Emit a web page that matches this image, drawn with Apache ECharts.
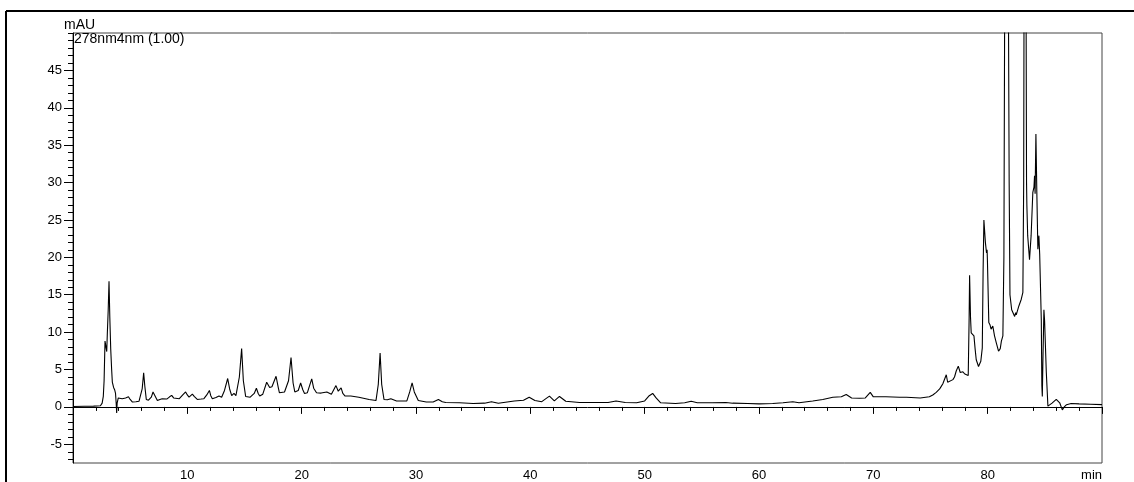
<!DOCTYPE html>
<html><head><meta charset="utf-8">
<script src="https://cdn.jsdelivr.net/npm/echarts@6/dist/echarts.min.js"></script>
<style>html,body{margin:0;padding:0;background:#fff}#c{width:1134px;height:482px}</style>
</head><body><div id="c"></div>
<script>
// Retention time (min)
const times = [
0,1.0,1.8,2.4,2.55,2.65,2.72,2.8,2.88,2.95,3.0,3.08,3.15,3.22,3.3,3.38,3.44,3.55,3.64,3.72,3.78,3.82,3.86,3.96,
4.1,4.3,4.6,4.85,5.0,5.2,5.5,5.77,5.92,6.05,6.18,6.28,6.41,6.6,6.85,7.0,7.08,7.2,7.38,7.6,7.8,8.2,8.45,8.63,8.8,8.97,
9.3,9.6,9.85,10.0,10.15,10.44,10.6,10.87,11.2,11.45,11.7,11.93,12.05,12.19,12.5,12.77,13.0,13.25,13.53,13.7,13.88,
14.08,14.25,14.37,14.55,14.75,14.9,15.1,15.5,15.85,16.04,16.2,16.33,16.6,16.94,17.2,17.4,17.76,17.95,18.05,18.5,
18.85,19.07,19.25,19.4,19.7,19.91,20.1,20.25,20.5,20.88,21.05,21.3,21.7,22.2,22.6,23.0,23.2,23.45,23.6,23.8,24.3,
25.0,25.9,26.5,26.7,26.86,27.0,27.2,27.5,27.8,28.3,29.2,29.45,29.66,29.85,30.2,30.9,31.5,31.96,32.3,32.6,33.8,
35.0,36.0,36.6,37.2,38.6,39.4,39.9,40.4,41.0,41.67,42.1,42.55,43.1,44.3,45.76,46.8,47.5,48.3,49.3,50.0,50.4,50.7,
51.0,51.4,52.7,53.5,54.07,54.6,55.9,57.1,57.7,59.0,60.0,61.2,62.1,62.96,63.5,64.7,65.58,66.46,67.2,67.63,68.1,68.8,
69.3,69.73,70.0,71.1,72.3,72.9,74.1,74.9,75.2,75.5,75.8,75.94,76.08,76.2,76.38,76.5,76.65,76.96,77.1,77.25,77.43,
77.6,77.83,78.0,78.13,78.3,78.38,78.42,78.5,78.56,78.8,78.9,79.0,79.2,79.4,79.53,79.6,79.67,79.8,79.9,79.95,79.98,
80.05,80.1,80.2,80.3,80.45,80.6,80.75,80.95,81.1,81.2,81.33,81.42,81.5,81.65,81.8,81.88,81.95,82.1,82.36,82.45,82.5,
82.73,82.94,83.08,83.15,83.2,83.27,83.35,83.4,83.43,83.5,83.66,83.8,83.95,84.05,84.1,84.15,84.22,84.3,84.39,84.48,
84.55,84.69,84.74,84.78,84.83,84.92,84.98,85.13,85.27,85.42,85.63,86.0,86.3,86.53,86.7,86.9,87.3,88.0,89.0,90.0
];
// Absorbance (mAU)
const mAU = [
0.05,0.08,0.1,0.15,0.5,1.4,3.5,8.8,9.0,7.4,9.7,13,16.8,12,7.7,5,3.3,2.6,2.3,1.8,0.4,-0.8,0.5,1.2,
1.0,1.1,1.2,1.35,1.0,0.65,0.7,0.75,1.0,2.4,4.55,2.8,1.0,0.9,1.3,2.0,2.2,1.4,0.85,1.0,1.1,1.05,1.35,1.55,1.2,0.95,
1.1,1.6,2.0,1.6,1.3,1.7,1.4,1.0,1.05,1.1,1.6,2.2,1.5,1.1,1.25,1.45,1.3,2.2,3.8,2.4,1.5,
1.8,1.5,1.35,4.0,7.8,3.5,1.4,1.3,1.8,2.5,1.8,1.45,1.7,3.3,2.6,2.7,4.1,2.6,1.9,2.0,
3.5,6.6,3.2,2.0,2.2,3.2,2.3,1.8,1.9,3.75,2.5,1.9,1.85,2.0,1.7,2.85,2.1,2.55,1.8,1.45,1.45,
1.3,1.0,0.85,3.0,7.2,3.0,1.0,0.95,1.1,0.8,0.8,2.0,3.2,2.0,0.85,0.65,0.65,1.0,0.7,0.6,0.55,
0.45,0.5,0.7,0.5,0.8,0.9,1.3,0.85,0.7,1.45,0.8,1.4,0.75,0.6,0.6,0.6,0.8,0.6,0.55,0.8,1.5,1.8,
1.2,0.55,0.45,0.55,0.75,0.55,0.55,0.6,0.5,0.45,0.4,0.45,0.55,0.7,0.55,0.8,1.0,1.3,1.35,1.65,1.2,1.15,
1.2,1.95,1.35,1.35,1.3,1.3,1.2,1.35,1.6,1.95,2.4,2.75,3.1,2.9,4.3,3.3,3.2,3.65,4.0,4.8,5.45,
4.6,4.7,4.4,4.3,4.2,12,17.6,12,9.9,9.5,7.8,6.3,5.4,6.1,7.9,18,25.0,22.0,20.6,21.0,19.5,
19.7,11.3,11.0,10.4,10.8,9.5,8.6,7.45,7.8,8.8,9.5,20,60,120,60,30,15,13,12.1,12.6,12.3,
13.5,14.4,15.3,30,70,120,60,30,26.9,22.9,19.7,22.9,28.7,29.4,30.9,28.5,36.5,28.7,21.1,22.9,
20.4,11.7,2.8,1.4,6,13.0,11.5,4.6,0.1,0.15,0.5,1.0,0.55,-0.4,0.0,0.3,0.45,0.4,0.35,0.3
];
const xMajorTicks = [10,20,30,40,50,60,70,80,90];
const xMinorTicks = [2,4,6,8,12,14,16,18,22,24,26,28,32,34,36,38,42,44,46,48,52,54,56,58,62,64,66,68,72,74,76,78,82,84,86,88];
const yLabelValues = [-5,0,5,10,15,20,25,30,35,40,45];
const yMinorTicks = [];
for (let v = -7; v <= 50; v++) yMinorTicks.push(v);
const chartTitle = '278nm4nm (1.00)';
const yUnit = 'mAU';
const xUnit = 'min';

const FONT = 'Liberation Sans';
const chart = echarts.init(document.getElementById('c'), null, {renderer: 'canvas'});
const pts = times.map((t, i) => [t, mAU[i]]);
chart.setOption({
  animation: false,
  backgroundColor: '#fff',
  title: {text: chartTitle, left: 74, top: 32, padding: 0,
    textStyle: {fontFamily: FONT, fontSize: 14, fontWeight: 'normal', color: '#000'}},
  grid: {left: 73, right: 32, top: 33, bottom: 19, show: true, borderColor: '#444', borderWidth: 1, containLabel: false},
  xAxis: [{
    type: 'value', min: 0, max: 90, position: 'bottom',
    axisLine: {show: true, lineStyle: {color: '#000', width: 1}},
    axisTick: {show: true, customValues: xMajorTicks, length: 7, lineStyle: {color: '#000'}},
    axisLabel: {show: true, customValues: xMajorTicks, margin: 6, alignMaxLabel: 'right',
      fontFamily: FONT, fontSize: 13, color: '#000',
      formatter: v => v === 90 ? xUnit : String(v)},
    splitLine: {show: false}
  }, {
    type: 'value', min: 0, max: 90, position: 'bottom',
    axisLine: {show: false},
    axisTick: {show: true, customValues: xMinorTicks, length: 4, lineStyle: {color: '#000'}},
    axisLabel: {show: false}, splitLine: {show: false}
  }],
  yAxis: [{
    type: 'value', min: -7.5, max: 50, position: 'left',
    axisLine: {show: true, lineStyle: {color: '#000', width: 1}},
    axisTick: {show: true, customValues: yLabelValues, length: 9, lineStyle: {color: '#000'}},
    axisLabel: {show: true, customValues: yLabelValues, margin: 11,
      fontFamily: FONT, fontSize: 13, color: '#000'},
    splitLine: {show: false}
  }, {
    type: 'value', min: -7.5, max: 50, position: 'left',
    axisLine: {show: false},
    axisTick: {show: true, customValues: yMinorTicks, length: 5, lineStyle: {color: '#000'}},
    axisLabel: {show: false}, splitLine: {show: false}
  }],
  graphic: [
    {type: 'line', shape: {x1: 6, y1: 11, x2: 1134, y2: 11}, style: {stroke: '#000', lineWidth: 2}, silent: true},
    {type: 'line', shape: {x1: 6, y1: 11, x2: 6, y2: 482}, style: {stroke: '#000', lineWidth: 2}, silent: true},
    {type: 'text', left: 64, top: 18, style: {text: yUnit, fontFamily: FONT, fontSize: 14, fill: '#000'}, silent: true}
  ],
  series: [{
    type: 'line', data: pts, xAxisIndex: 0, yAxisIndex: 0,
    showSymbol: false, symbol: 'none', clip: true,
    lineStyle: {color: '#000', width: 1.1}
  }]
});
</script></body></html>
